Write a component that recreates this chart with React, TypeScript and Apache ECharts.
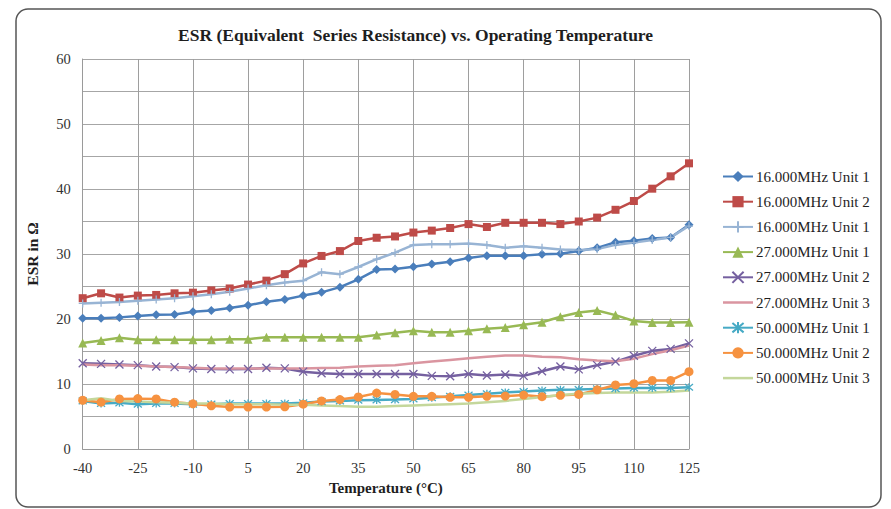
import React, { useEffect, useRef } from "react";
import * as echarts from "echarts";

// Operating temperature points (°C), one sample every 5 degrees
const temperatures = [
  -40, -35, -30, -25, -20, -15, -10, -5, 0, 5, 10, 15, 20, 25, 30, 35, 40,
  45, 50, 55, 60, 65, 70, 75, 80, 85, 90, 95, 100, 105, 110, 115, 120, 125,
];

// ESR in ohms for each crystal unit
const mhz16Unit1 = [
  20.1, 20.1, 20.25, 20.45, 20.65, 20.7, 21.1, 21.3, 21.7, 22.1, 22.65, 23.0,
  23.6, 24.1, 24.9, 26.1, 27.6, 27.7, 28.05, 28.45, 28.8, 29.4, 29.75, 29.75,
  29.75, 29.95, 30.05, 30.45, 30.95, 31.8, 32.05, 32.4, 32.55, 34.5,
];
const mhz16Unit2 = [
  23.2, 23.95, 23.3, 23.6, 23.7, 23.95, 24.05, 24.4, 24.7, 25.3, 25.9, 26.9,
  28.55, 29.7, 30.45, 32.0, 32.5, 32.7, 33.3, 33.6, 34.0, 34.6, 34.15, 34.8,
  34.8, 34.8, 34.6, 35.0, 35.6, 36.8, 38.15, 40.05, 41.95, 43.95,
];
const mhz16Unit1b = [
  22.4, 22.5, 22.6, 22.8, 23.0, 23.2, 23.5, 23.8, 24.2, 24.7, 25.2, 25.6,
  25.9, 27.2, 26.9, 28.0, 29.2, 30.2, 31.4, 31.5, 31.5, 31.6, 31.4, 30.95,
  31.2, 30.95, 30.7, 30.6, 30.75, 31.4, 31.75, 32.15, 32.55, 34.3,
];
const mhz27Unit1 = [
  16.3, 16.7, 17.1, 16.8, 16.8, 16.8, 16.8, 16.8, 16.9, 16.9, 17.2, 17.2,
  17.2, 17.2, 17.2, 17.2, 17.55, 17.9, 18.2, 17.95, 17.95, 18.2, 18.5, 18.7,
  19.1, 19.5, 20.35, 21.0, 21.3, 20.6, 19.7, 19.45, 19.45, 19.5,
];
const mhz27Unit2 = [
  13.2, 13.1, 13.0, 12.9, 12.7, 12.6, 12.4, 12.3, 12.25, 12.3, 12.5, 12.4,
  11.9, 11.65, 11.55, 11.55, 11.55, 11.55, 11.55, 11.25, 11.2, 11.55, 11.3,
  11.45, 11.25, 11.95, 12.7, 12.25, 12.9, 13.45, 14.35, 15.1, 15.4, 16.25,
];
const mhz27Unit3 = [
  13.0, 12.9, 12.9, 12.8, 12.7, 12.6, 12.5, 12.4, 12.4, 12.4, 12.4, 12.4,
  12.4, 12.45, 12.5, 12.7, 12.8, 12.9, 13.2, 13.45, 13.7, 13.95, 14.2, 14.4,
  14.4, 14.2, 14.1, 13.8, 13.6, 13.5, 13.9, 14.6, 15.2, 15.9,
];
const mhz50Unit1 = [
  7.4, 7.0, 7.1, 6.9, 7.0, 7.0, 6.9, 6.9, 7.0, 7.0, 7.0, 7.0, 7.1, 7.3, 7.4,
  7.5, 7.55, 7.6, 7.7, 7.9, 8.1, 8.3, 8.5, 8.7, 8.85, 9.0, 9.1, 9.15, 9.25,
  9.3, 9.4, 9.4, 9.4, 9.5,
];
const mhz50Unit2 = [
  7.5, 7.2, 7.7, 7.75, 7.7, 7.2, 6.95, 6.65, 6.45, 6.45, 6.45, 6.5, 6.9, 7.4,
  7.6, 8.0, 8.6, 8.4, 8.1, 8.1, 7.95, 7.95, 8.1, 8.15, 8.3, 8.05, 8.25, 8.4,
  9.1, 9.85, 10.05, 10.55, 10.55, 11.9,
];
const mhz50Unit3 = [
  7.5, 7.8, 7.4, 7.3, 7.2, 7.1, 7.0, 7.0, 6.9, 6.9, 6.9, 6.8, 6.8, 6.7, 6.6,
  6.5, 6.5, 6.6, 6.7, 6.8, 6.9, 7.0, 7.2, 7.4, 7.7, 8.0, 8.3, 8.5, 8.6, 8.7,
  8.7, 8.7, 8.8, 9.0,
];

// Legend labels; the third entry repeats the first label, so series keys
// carry their index and the legend formatter shows only the label.
const seriesLabels = [
  "16.000MHz Unit 1",
  "16.000MHz Unit 2",
  "16.000MHz Unit 1",
  "27.000MHz Unit 1",
  "27.000MHz Unit 2",
  "27.000MHz Unit 3",
  "50.000MHz Unit 1",
  "50.000MHz Unit 2",
  "50.000MHz Unit 3",
];
const seriesKey = (i: number) => `${i}|${seriesLabels[i]}`;

const yTicks = [0, 10, 20, 30, 40, 50, 60];

const SERIF = "'Liberation Serif', 'Times New Roman', serif";

// stroke-only marker shapes
const CROSS = "path://M0,0L10,10M10,0L0,10";
const PLUS = "path://M5,0L5,10M0,5L10,5";
const ASTERISK = "path://M0,0L10,10M10,0L0,10M5,-1L5,11";
// plain line swatch for marker-less series
const LINE_ICON = "path://M0,0H30V2.5H0Z";

export default function App() {
  const ref = useRef<HTMLDivElement>(null);

  useEffect(() => {
    if (!ref.current) return;
    const chart = echarts.init(ref.current, undefined, { renderer: "svg" });

    const markerless = new Set<number>();

    const line = (
      idx: number,
      data: number[],
      color: string,
      symbol: string,
      symbolSize: number,
      stroked = false
    ) => {
      if (symbol === "none") markerless.add(idx);
      return {
        name: seriesKey(idx),
        type: "line",
        data,
        symbol,
        symbolSize,
        showSymbol: symbol !== "none",
        lineStyle: { color, width: 2.5 },
        itemStyle: stroked
          ? { color, borderColor: color, borderWidth: 1.3 }
          : { color, borderWidth: 0 },
        emphasis: { disabled: true },
      };
    };

    const series = [
      line(0, mhz16Unit1, "#4A7EBB", "diamond", 9),
      line(1, mhz16Unit2, "#BE4B48", "rect", 8),
      line(2, mhz16Unit1b, "#98B4D4", PLUS, 8, true),
      line(3, mhz27Unit1, "#98B954", "triangle", 9),
      line(4, mhz27Unit2, "#7560A0", CROSS, 8, true),
      line(5, mhz27Unit3, "#DA95A0", "none", 0),
      line(6, mhz50Unit1, "#46AAC5", ASTERISK, 8, true),
      line(7, mhz50Unit2, "#F69240", "circle", 9),
      line(8, mhz50Unit3, "#C4D79B", "none", 0),
    ];

    chart.setOption({
      animation: false,
      backgroundColor: "#ffffff",
      title: {
        text: "ESR (Equivalent  Series Resistance) vs. Operating Temperature",
        left: 178,
        top: 26,
        padding: 0,
        textStyle: {
          fontFamily: SERIF,
          fontWeight: "bold",
          fontSize: 17.5,
          color: "#1e1e1e",
        },
      },
      graphic: [
        {
          type: "rect",
          shape: { x: 16, y: 9, width: 865, height: 498, r: 12 },
          style: { fill: "none", stroke: "#555555", lineWidth: 1.5 },
          silent: true,
        },
      ],
      legend: {
        orient: "vertical",
        left: 717,
        top: 164,
        itemWidth: 30,
        itemHeight: 14,
        itemGap: 10.2,
        symbolKeepAspect: true,
        formatter: (name: string) => name.slice(name.indexOf("|") + 1),
        textStyle: {
          fontFamily: SERIF,
          fontSize: 15,
          color: "#1e1e1e",
          padding: [0, 0, 0, -2],
        },
        data: seriesLabels.map((_, i) =>
          markerless.has(i)
            ? { name: seriesKey(i), icon: LINE_ICON }
            : { name: seriesKey(i) }
        ),
      },
      grid: { left: 82.7, right: 202, top: 59, bottom: 60 },
      xAxis: {
        type: "category",
        data: temperatures.map(String),
        boundaryGap: false,
        name: "Temperature (°C)",
        nameLocation: "middle",
        nameGap: 31,
        nameTextStyle: {
          fontFamily: SERIF,
          fontWeight: "bold",
          fontSize: 15,
          color: "#1e1e1e",
        },
        axisLine: { lineStyle: { color: "#9a9a9a", width: 1 } },
        axisTick: { show: false },
        axisLabel: {
          interval: 2,
          margin: 11,
          fontFamily: SERIF,
          fontSize: 14.5,
          color: "#333333",
        },
        splitLine: {
          show: true,
          interval: 2,
          lineStyle: { color: "#9e9e9e", width: 1 },
        },
      },
      yAxis: {
        type: "value",
        min: 0,
        max: 60,
        interval: 5,
        name: "ESR in Ω",
        nameLocation: "middle",
        nameGap: 42,
        nameTextStyle: {
          fontFamily: SERIF,
          fontWeight: "bold",
          fontSize: 15.5,
          color: "#1e1e1e",
        },
        axisLine: { show: true, lineStyle: { color: "#9a9a9a", width: 1 } },
        axisTick: { show: false },
        axisLabel: {
          margin: 12,
          fontFamily: SERIF,
          fontSize: 14.5,
          color: "#333333",
          formatter: (v: number) => (yTicks.includes(v) ? String(v) : ""),
        },
        splitLine: { show: true, lineStyle: { color: "#a6a6a6", width: 1 } },
      },
      series,
    });

    return () => chart.dispose();
  }, []);

  return (
    <div
      ref={ref}
      style={{ position: "absolute", left: 0, top: 0, width: 891, height: 509 }}
    />
  );
}
